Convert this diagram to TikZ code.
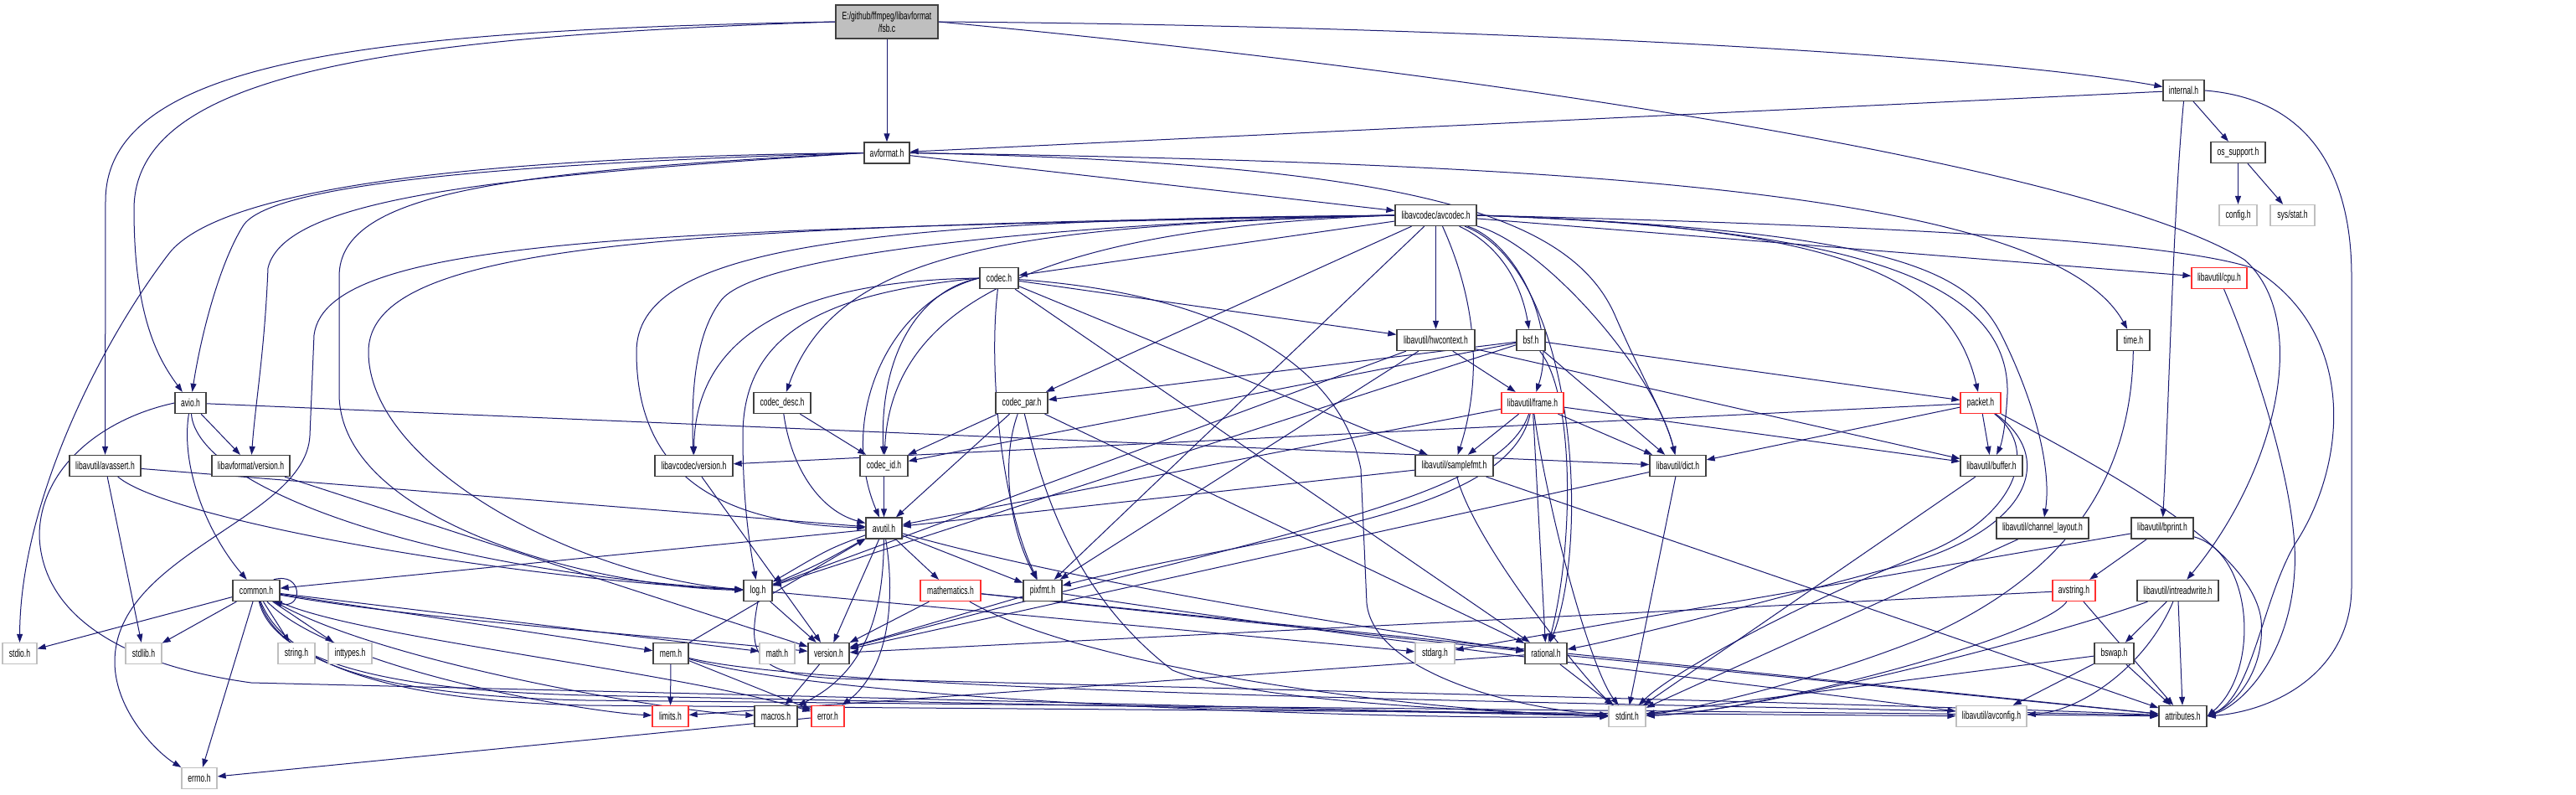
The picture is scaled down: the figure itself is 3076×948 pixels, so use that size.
\documentclass[tikz,border=0pt]{standalone}
\usepackage{fontspec}
\setmainfont{Liberation Sans}[FakeStretch=0.66]
\usetikzlibrary{arrows.meta}
\definecolor{edgec}{HTML}{191970}
\definecolor{grayb}{HTML}{BFBFBF}
\definecolor{redb}{HTML}{FF3030}
\definecolor{blkb}{HTML}{404040}
\definecolor{fsbfill}{HTML}{BFBFBF}
\pgfdeclarelayer{back}
\pgfdeclarelayer{bg}
\pgfsetlayers{back,bg,main}
\begin{document}
\begin{tikzpicture}[x=1pt,y=-1pt,
  base/.style={rectangle, minimum height=25pt, inner sep=0pt, line width=1.3pt, fill=white, font=\fontsize{13}{15}\selectfont, text=black},
  nb/.style={base, draw=blkb},
  ng/.style={base, draw=grayb},
  nr/.style={base, draw=redb},
  e/.style={draw=edgec, line width=1pt, -{Triangle[length=10pt,width=7pt]}},
]
\begin{pgfonlayer}{back}
\fill[white] (0,0) rectangle (3076,948);
\end{pgfonlayer}
\useasboundingbox (0,0) rectangle (3076,948);

% nodes
\node[nb, fill=fsbfill, minimum width=122pt, minimum height=40pt, align=center] (fsb) at (1059,26) {E:/github/ffmpeg/libavformat\\/fsb.c};
\node[nb, minimum width=54pt] (avformat) at (1059,182.5) {avformat.h};
\node[nb, minimum width=49pt] (internal) at (2607.5,108) {internal.h};
\node[nb, minimum width=97pt] (avcodec) at (1714.5,257) {libavcodec/avcodec.h};
\node[nb, minimum width=65pt] (ossupport) at (2672.5,182) {os\_support.h};
\node[ng, minimum width=45pt] (config) at (2672.5,257) {config.h};
\node[ng, minimum width=53pt] (sysstat) at (2737.5,257) {sys/stat.h};
\node[nb, minimum width=46pt] (codec) at (1193,332) {codec.h};
\node[nr, minimum width=66pt] (cpu) at (2650,332) {libavutil/cpu.h};
\node[nb, minimum width=93pt] (hwcontext) at (1714.5,406) {libavutil/hwcontext.h};
\node[nb, minimum width=34pt] (bsf) at (1828,406) {bsf.h};
\node[nb, minimum width=39pt] (time) at (2547.5,406) {time.h};
\node[nb, minimum width=37pt] (avio) at (227.5,481) {avio.h};
\node[nb, minimum width=68pt] (codecdesc) at (934,481) {codec\_desc.h};
\node[nb, minimum width=62pt] (codecpar) at (1220,481) {codec\_par.h};
\node[nr, minimum width=74pt] (frame) at (1830,481) {libavutil/frame.h};
\node[nr, minimum width=48pt] (packet) at (2365,481) {packet.h};
\node[nb, minimum width=85pt] (avassert) at (125.5,556) {libavutil/avassert.h};
\node[nb, minimum width=93pt] (lavfversion) at (299.5,556) {libavformat/version.h};
\node[nb, minimum width=93pt] (lavcversion) at (828.5,556) {libavcodec/version.h};
\node[nb, minimum width=57pt] (codecid) at (1055.5,556) {codec\_id.h};
\node[nb, minimum width=93pt] (samplefmt) at (1736.5,556) {libavutil/samplefmt.h};
\node[nb, minimum width=67pt] (dict) at (2003.5,556) {libavutil/dict.h};
\node[nb, minimum width=74pt] (buffer) at (2378,556) {libavutil/buffer.h};
\node[nb, minimum width=43pt] (avutil) at (1055.5,630.5) {avutil.h};
\node[nb, minimum width=110pt] (chlayout) at (2439,630.5) {libavutil/channel\_layout.h};
\node[nb, minimum width=74pt] (bprint) at (2582,630.5) {libavutil/bprint.h};
\node[nb, minimum width=56pt] (common) at (306,705) {common.h};
\node[nb, minimum width=34pt] (log) at (905,705) {log.h};
\node[nr, minimum width=72pt] (mathematics) at (1135,705) {mathematics.h};
\node[nb, minimum width=46pt] (pixfmt) at (1245,705) {pixfmt.h};
\node[nr, minimum width=51pt] (avstring) at (2476.5,705) {avstring.h};
\node[nb, minimum width=97pt] (intreadwrite) at (2600.5,705) {libavutil/intreadwrite.h};
\node[ng, minimum width=41pt] (stdio) at (23.5,780) {stdio.h};
\node[ng, minimum width=43pt] (stdlib) at (171.5,780) {stdlib.h};
\node[ng, minimum width=44pt] (string) at (354,780) {string.h};
\node[ng, minimum width=52pt] (inttypes) at (418,780) {inttypes.h};
\node[nb, minimum width=42pt] (mem) at (801,780) {mem.h};
\node[ng, minimum width=42pt] (math) at (928,780) {math.h};
\node[nb, minimum width=49pt] (version) at (989.5,780) {version.h};
\node[ng, minimum width=47pt] (stdarg) at (1713.5,780) {stdarg.h};
\node[nb, minimum width=50pt] (rational) at (1846,780) {rational.h};
\node[nb, minimum width=47pt] (bswap) at (2524.5,780) {bswap.h};
\node[nr, minimum width=43pt] (limits) at (800.5,855) {limits.h};
\node[nb, minimum width=51pt] (macros) at (926.5,855) {macros.h};
\node[nr, minimum width=39pt] (error) at (988.5,855) {error.h};
\node[ng, minimum width=44pt] (stdint) at (1943,855) {stdint.h};
\node[ng, minimum width=84pt] (avconfig) at (2378,855) {libavutil/avconfig.h};
\node[nb, minimum width=57pt] (attributes) at (2606.5,855) {attributes.h};
\node[ng, minimum width=42pt] (errno) at (238,929) {errno.h};

\begin{pgfonlayer}{bg}
% fsb
\draw[e] (fsb) -- (avformat);
\draw[e] (fsb.west) .. controls (450,36) and (126,70) .. (126,240) -- (avassert);
\draw[e] (fsb.west) .. controls (450,44) and (160,90) .. (160,250) .. controls (160,380) and (190,430) .. (avio);
\draw[e] (fsb.east) .. controls (1700,30) and (2350,62) .. (internal);
\draw[e] (fsb.east) .. controls (1800,90) and (2500,200) .. (2680,310) .. controls (2760,380) and (2720,560) .. (intreadwrite);
% avformat
\draw[e] (avformat.east) .. controls (1900,195) and (2450,230) .. (time);
\draw[e] (avformat.west) .. controls (500,188) and (250,235) .. (200,305) .. controls (120,410) and (24,600) .. (stdio);
\draw[e] (avformat) -- (avcodec);
\draw[e] (avformat.east) .. controls (1700,195) and (1880,260) .. (1930,380) .. controls (1965,460) and (1990,500) .. (dict);
\draw[e] (avformat.west) .. controls (600,205) and (405,230) .. (405,330) -- (405,470) .. controls (405,620) and (700,700) .. (log);
\draw[e] (avformat.west) .. controls (600,195) and (320,220) .. (290,270) .. controls (262,315) and (240,400) .. (avio);
\draw[e] (avformat.west) .. controls (600,210) and (340,235) .. (320,320) .. controls (316,420) and (305,480) .. (lavfversion);
% internal
\draw[e] (internal) -- (avformat);
\draw[e] (internal) -- (ossupport);
\draw[e] (internal.south) .. controls (2595,250) and (2590,480) .. (bprint);
\draw[e] (internal.east) .. controls (2760,118) and (2808,210) .. (2808,330) -- (2808,700) .. controls (2808,800) and (2720,848) .. (attributes.east);
\draw[e] (ossupport) -- (config);
\draw[e] (ossupport) -- (sysstat);
% avcodec
\draw[e] (avcodec) -- (codec);
\draw[e] (avcodec) -- (codecpar);
\draw[e] (avcodec) -- (hwcontext);
\draw[e] ([xshift=8pt]avcodec.south) .. controls (1745,320) and (1780,420) .. (samplefmt);
\draw[e] (avcodec) .. controls (1785,290) and (1815,330) .. (bsf);
\draw[e] (avcodec) .. controls (1810,290) and (1860,390) .. (frame);
\draw[e] (avcodec) .. controls (1840,290) and (1975,440) .. (dict);
\draw[e] (avcodec) .. controls (1880,320) and (1900,640) .. (rational);
\draw[e] (avcodec.west) .. controls (800,275) and (390,280) .. (375,400) -- (370,520) .. controls (365,620) and (137,660) .. (137,790) .. controls (137,850) and (190,900) .. (errno);
\draw[e] (avcodec.west) .. controls (1000,262) and (760,300) .. (760,420) .. controls (760,560) and (850,625) .. (avutil);
\draw[e] (avcodec.west) .. controls (800,270) and (440,290) .. (440,420) .. controls (440,560) and (700,690) .. (log);
\draw[e] (avcodec.west) .. controls (1300,265) and (900,300) .. (860,360) .. controls (830,400) and (825,470) .. (lavcversion);
\draw[e] (avcodec.west) .. controls (1200,270) and (1000,300) .. (codecdesc);
\draw[e] (avcodec.west) .. controls (1250,272) and (1065,360) .. (codecid);
\draw[e] (avcodec.east) .. controls (2250,275) and (2350,320) .. (2390,400) .. controls (2430,480) and (2450,560) .. (chlayout);
\draw[e] (avcodec.east) .. controls (2200,270) and (2330,330) .. (packet);
\draw[e] (avcodec.east) .. controls (2200,272) and (2400,330) .. (2397,470) .. controls (2395,510) and (2390,530) .. (buffer);
\draw[e] (avcodec) -- (cpu);
\draw[e] (avcodec.east) .. controls (2300,270) and (2600,290) .. (2690,320) .. controls (2820,400) and (2800,560) .. (2740,650) .. controls (2700,720) and (2690,830) .. (attributes.east);
\draw[e] (avcodec) -- (pixfmt);
% codec
\draw[e] (codec) .. controls (1450,350) and (1600,430) .. (1625,560) -- (1632,720) .. controls (1640,800) and (1800,845) .. (stdint);
\draw[e] (codec.west) .. controls (1060,360) and (1000,500) .. (avutil);
\draw[e] (codec) -- (hwcontext);
\draw[e] (codec.west) .. controls (980,350) and (887,400) .. (887,520) .. controls (887,600) and (895,650) .. (log);
\draw[e] (codec) .. controls (1180,440) and (1195,600) .. (pixfmt);
\draw[e] (codec) -- (rational);
\draw[e] (codec) -- (samplefmt);
\draw[e] (codec.west) .. controls (1100,345) and (1050,420) .. (codecid);
\draw[e] (codec.west) .. controls (950,335) and (830,400) .. (lavcversion);
% codecdesc
\draw[e] (codecdesc) .. controls (945,560) and (980,610) .. (avutil);
\draw[e] (codecdesc) -- (codecid);
% codecpar
\draw[e] (codecpar) .. controls (1240,560) and (1270,700) .. (1400,800) .. controls (1500,840) and (1800,850) .. (stdint);
\draw[e] (codecpar) -- (avutil);
\draw[e] (codecpar) -- (rational);
\draw[e] (codecpar) .. controls (1195,550) and (1205,630) .. (pixfmt);
\draw[e] (codecpar) -- (codecid);
% bsf
\draw[e] (bsf) -- (dict);
\draw[e] (bsf) -- (log);
\draw[e] (bsf) .. controls (1880,470) and (1880,650) .. (rational);
\draw[e] (bsf) -- (codecid);
\draw[e] (bsf) -- (codecpar);
\draw[e] (bsf) -- (packet);
% hwcontext
\draw[e] (hwcontext) -- (buffer);
\draw[e] (hwcontext) -- (frame);
\draw[e] (hwcontext) -- (log);
\draw[e] (hwcontext) -- (pixfmt);
% frame
\draw[e] (frame) .. controls (1850,620) and (1900,800) .. (stdint);
\draw[e] (frame) -- (avutil);
\draw[e] (frame) -- (buffer);
\draw[e] (frame) -- (dict);
\draw[e] (frame) -- (rational);
\draw[e] (frame) -- (samplefmt);
\draw[e] (frame) .. controls (1800,620) and (1500,640) .. (pixfmt);
\draw[e] (frame) .. controls (1790,600) and (1500,640) .. (version);
% packet
\draw[e] (packet) .. controls (2440,540) and (2400,620) .. (2300,660) .. controls (2150,720) and (2000,800) .. (stdint);
\draw[e] (packet) .. controls (2460,550) and (2420,640) .. (2250,680) .. controls (2100,720) and (1950,760) .. (rational);
\draw[e] (packet) .. controls (2550,580) and (2690,660) .. (2700,740) .. controls (2705,800) and (2670,840) .. (attributes.east);
\draw[e] (packet) -- (buffer);
\draw[e] (packet) -- (dict);
\draw[e] (packet) -- (lavcversion);
% misc
\draw[e] (samplefmt) .. controls (1760,650) and (1900,820) .. (stdint);
\draw[e] (samplefmt) -- (avutil);
\draw[e] (samplefmt) -- (attributes);
\draw[e] (dict) -- (stdint);
\draw[e] (dict) -- (version);
\draw[e] (buffer) -- (stdint);
\draw[e] (chlayout) -- (stdint);
\draw[e] (bprint) -- (stdarg);
\draw[e] (bprint) .. controls (2690,660) and (2700,800) .. (attributes.east);
\draw[e] (bprint) -- (avstring);
\draw[e] (cpu) .. controls (2700,450) and (2745,600) .. (2740,680) .. controls (2735,780) and (2680,840) .. (attributes.east);
\draw[e] (time) .. controls (2545,560) and (2480,680) .. (2300,760) .. controls (2150,820) and (2000,850) .. (stdint);
% avutil
\draw[e] (avutil) -- (common);
\draw[e] (avutil) .. controls (1070,720) and (1060,800) .. (error);
\draw[e] (avutil) -- (version);
\draw[e] (avutil) .. controls (1055,720) and (1040,800) .. (macros);
\draw[e] (avutil) -- (mathematics);
\draw[e] (avutil) .. controls (1300,700) and (1700,760) .. (rational);
\draw[e] (avutil) .. controls (990,655) .. (log);
\draw[e] (avutil) -- (pixfmt);
% log
\draw[e] (log) .. controls (975,675) .. (avutil);
\draw[e] (log) -- (stdarg);
\draw[e] (log.south) .. controls (893,780) and (900,805) .. (1000,810) .. controls (1800,830) and (2400,845) .. (attributes);
\draw[e] (log) -- (version);
% common
\draw[e] (common) -- (stdio);
\draw[e] (common) -- (stdlib);
\draw[e] (common) -- (string);
\draw[e] (common) -- (inttypes);
\draw[e] (common) -- (errno);
\draw[e] ([xshift=-8pt]common.north east) .. controls (362,682) and (362,728) .. ([xshift=-8pt]common.south east);
\draw[e] (common) -- (math);
\draw[e] (common) -- (mem);
\draw[e] (common) .. controls (400,800) and (700,850) .. (limits);
\draw[e] (common) .. controls (450,790) and (800,850) .. (macros);
\draw[e] (common) .. controls (500,740) and (800,760) .. (version);
\draw[e] (common) .. controls (330,800) and (500,825) .. (700,830) -- (stdint);
\draw[e] (common) .. controls (340,810) and (520,832) .. (700,836) -- (attributes);
\draw[e] (common) .. controls (350,815) and (540,838) .. (700,842) -- (avconfig);
\draw[e] (common) .. controls (420,760) and (800,800) .. (error);
% mathematics
\draw[e] (mathematics) -- (version);
\draw[e] (mathematics) .. controls (1300,800) and (1700,850) .. (stdint);
\draw[e] (mathematics) -- (rational);
\draw[e] (mathematics) -- (attributes);
% pixfmt
\draw[e] (pixfmt) -- (version);
\draw[e] (pixfmt) .. controls (1600,760) and (2200,830) .. (avconfig);
% mem
\draw[e] (mem) -- (avutil);
\draw[e] (mem) -- (limits);
\draw[e] (mem) -- (error);
\draw[e] (mem) .. controls (1000,840) and (1700,860) .. (stdint);
\draw[e] (mem) .. controls (1000,830) and (2000,840) .. (attributes);
\draw[e] (version) -- (macros);
\draw[e] (rational) -- (limits);
\draw[e] (rational) -- (stdint);
\draw[e] (rational) -- (attributes);
\draw[e] (avstring) -- (version);
\draw[e] (avstring) .. controls (2440,760) and (2100,850) .. (stdint);
\draw[e] (avstring) -- (attributes);
\draw[e] (intreadwrite) .. controls (2450,760) and (2100,850) .. (stdint);
\draw[e] (intreadwrite) .. controls (2560,800) and (2480,850) .. (avconfig);
\draw[e] (intreadwrite) -- (attributes);
\draw[e] (intreadwrite) -- (bswap);
\draw[e] (bswap) -- (stdint);
\draw[e] (bswap) -- (avconfig);
\draw[e] (bswap) -- (attributes);
\draw[e] (error) -- (errno);
% avio
\draw[e] (avio.west) .. controls (120,500) and (47,560) .. (47,640) .. controls (50,720) and (120,790) .. (300,815) -- (stdint);
\draw[e] (avio) .. controls (215,560) and (250,640) .. (common);
\draw[e] (avio) .. controls (235,580) and (500,680) .. (log);
\draw[e] (avio) -- (dict);
\draw[e] (avio) -- (lavfversion);
% avassert
\draw[e] (avassert) -- (stdlib);
\draw[e] (avassert) -- (avutil);
\draw[e] (avassert) .. controls (200,620) and (600,690) .. (log);
\draw[e] (lavfversion) -- (version);
\draw[e] (lavcversion) -- (version);
\draw[e] (codecid) -- (avutil);
\end{pgfonlayer}
\end{tikzpicture}
\end{document}
